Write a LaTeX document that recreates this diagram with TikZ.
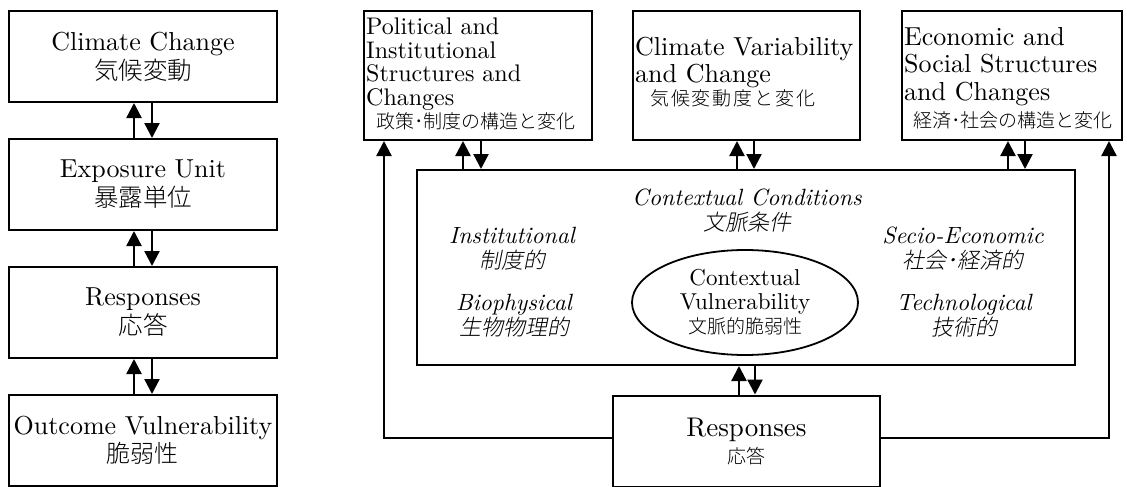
\documentclass[tikz,border=0pt]{standalone}
\usepackage{fontspec}
% one design size of Latin Modern at every point size
\setmainfont{lmroman10-regular.otf}[ItalicFont=lmroman10-italic.otf]
\IfFontExistsTF{Noto Sans CJK JP Light}
  {\newfontfamily\jpfont{Noto Sans CJK JP Light}
   \newfontfamily\jpslant{Noto Sans CJK JP Light}[FakeSlant=0.2]}
  {\newfontfamily\jpfont{Noto Sans CJK JP}
   \newfontfamily\jpslant{Noto Sans CJK JP}[FakeSlant=0.2]}
\usetikzlibrary{arrows.meta,calc,shapes.geometric}

\begin{document}
\begin{tikzpicture}[x=1pt,y=-1pt,
  box/.style={draw, line width=2pt, inner sep=0pt},
  link/.style={line width=2.3pt, -{Triangle[width=15pt,length=15pt]}},
  plain/.style={inner sep=0pt},
  colbox/.style={box, minimum width=268pt, minimum height=91pt, align=center,
                 font=\fontsize{26}{29}\selectfont},
  topbox/.style={box, minimum height=129pt},
  factor/.style={plain, align=center, font=\fontsize{23.5}{25}\selectfont\itshape}]
\useasboundingbox (0,0) rectangle (1127,487);

% ---------- left column: the outcome chain ----------
\node[colbox] (cc) at (143,56.5) {Climate Change\\{\jpfont\fontsize{24.5}{29}\selectfont 気候変動}};
\node[colbox] (eu) at (143,184.5) {Exposure Unit\\{\jpfont\fontsize{24.5}{29}\selectfont 暴露単位}};
\node[colbox] (rl) at (143,312.5) {Responses\\{\jpfont\fontsize{24.5}{29}\selectfont 応答}};
\node[colbox, font=\fontsize{26}{28}\selectfont] (ov) at (143,440.5) {Outcome Vulnerability\\{\jpfont\fontsize{24}{28}\selectfont 脆弱性}};

\foreach \a/\b in {cc/eu, eu/rl, rl/ov} {
  \draw[link] ($(\b.north)+(-9,0)$) -- ($(\a.south)+(-9,0)$);
  \draw[link] ($(\a.south)+(9,0)$) -- ($(\b.north)+(9,0)$);
}

% ---------- right part: the contextual framework ----------
\node[topbox, minimum width=228pt] (pol) at (478,75.5) {};
\node[topbox, minimum width=227pt] (cvc) at (746.5,75.5) {};
\node[topbox, minimum width=220pt] (eco) at (1012,75.5) {};

\node[plain, anchor=north west, align=left, font=\fontsize{24}{23.5}\selectfont] (polt) at (366,18)
  {Political and\\Institutional\\Structures and\\Changes\\\hspace*{10pt}{\jpfont\fontsize{19}{23.5}\selectfont 政策･制度の構造と変化}};
\node[plain, anchor=north west, align=left, font=\fontsize{26}{27}\selectfont] (cvct) at (635,37)
  {Climate Variability\\and Change\\[-4pt]\hspace*{15pt}{\jpfont\fontsize{19}{27}\selectfont\addfontfeature{LetterSpace=10}気候変動度と変化}};
\node[plain, anchor=north west, align=left, font=\fontsize{26}{27.5}\selectfont] (ecot) at (904,27)
  {Economic and\\Social Structures\\and Changes\\\hspace*{9pt}{\jpfont\fontsize{19}{27.5}\selectfont 経済･社会の構造と変化}};

\node[box, minimum width=658pt, minimum height=195pt] (ctx) at (746,267.5) {};
\node[factor] (ctxt) at (747,211) {Contextual Conditions\\{\jpslant\fontsize{22}{25}\selectfont 文脈条件}};
\node[factor] (inst) at (512,249) {Institutional\\{\jpslant\fontsize{22}{25}\selectfont 制度的}};
\node[factor] (bio) at (514,316) {Biophysical\\{\jpslant\fontsize{22}{25}\selectfont 生物物理的}};
\node[factor] (secio) at (963,249) {Secio-Economic\\{\jpslant\fontsize{22}{25}\selectfont 社会･経済的}};
\node[factor] (tech) at (964,316) {Technological\\{\jpslant\fontsize{22}{25}\selectfont 技術的}};

\node[draw, ellipse, line width=1.8pt, inner sep=0pt, minimum width=226pt, minimum height=105pt,
      align=center, font=\fontsize{23}{24}\selectfont] (cvul) at (745,302.5)
  {Contextual\\Vulnerability\\{\jpfont\fontsize{19}{24}\selectfont 文脈的脆弱性}};

\node[box, minimum width=267pt, minimum height=91pt, align=center,
      font=\fontsize{27}{27}\selectfont] (resp) at (746.5,441)
  {Responses\\{\jpfont\fontsize{19}{27}\selectfont 応答}};

% two-way links between the structure boxes and the contextual conditions
\coordinate (p1) at ($(pol.south)+(-15,0)$);
\coordinate (p2) at ($(pol.south)+(3,0)$);
\coordinate (c1) at ($(cvc.south)+(-9.5,0)$);
\coordinate (c2) at ($(cvc.south)+(7.5,0)$);
\coordinate (e1) at ($(eco.south)+(-4,0)$);
\coordinate (e2) at ($(eco.south)+(13,0)$);
\foreach \u/\d in {p1/p2, c1/c2, e1/e2} {
  \draw[link] (\u |- ctx.north) -- (\u);
  \draw[link] (\d) -- (\d |- ctx.north);
}

% two-way link between the contextual conditions and the responses
\coordinate (r1) at ($(resp.north)+(-7.5,0)$);
\coordinate (r2) at ($(resp.north)+(8.5,0)$);
\draw[link] (r1) -- (r1 |- ctx.south);
\draw[link] (r2 |- ctx.south) -- (r2);

% feedback from the responses to the outer structures
\coordinate (pl) at ($(pol.south west)+(21,0)$);
\coordinate (er) at ($(eco.south east)+(-14,0)$);
\draw[link] ($(resp.west)+(0,-3)$) -| (pl);
\draw[link] ($(resp.east)+(0,-3)$) -| (er);
\end{tikzpicture}
\end{document}
